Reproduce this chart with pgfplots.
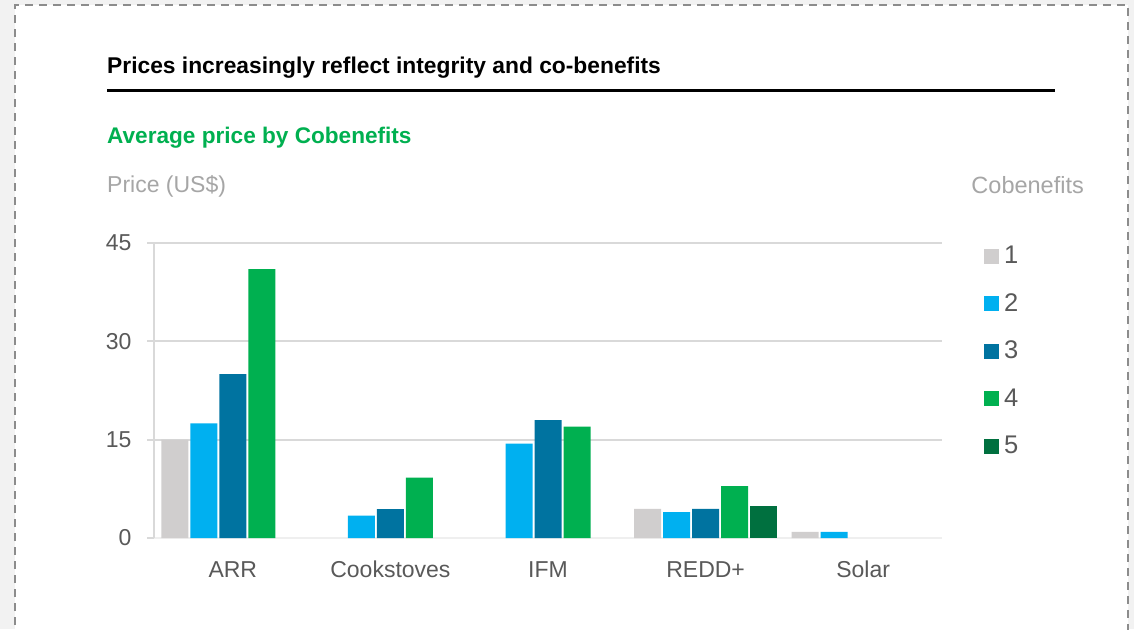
\documentclass[border=0pt]{standalone}
\usepackage{pgfplots}
\pgfplotsset{compat=1.18}
\usepackage{fontspec}
\setmainfont{Liberation Sans}
\definecolor{bgc}{HTML}{F2F2F2}
\definecolor{bordc}{HTML}{8C8C8C}
\definecolor{cA}{HTML}{D0CECE}
\definecolor{cB}{HTML}{00B0F0}
\definecolor{cC}{HTML}{0073A0}
\definecolor{cD}{HTML}{00B050}
\definecolor{cE}{HTML}{00703F}
\definecolor{gridc}{HTML}{D9D9D9}
\definecolor{txtc}{HTML}{595959}
\definecolor{lightt}{HTML}{A6A6A6}
\definecolor{titlegreen}{HTML}{00B050}
\begin{document}
\begin{tikzpicture}[x=1pt,y=1pt]
\path[use as bounding box] (0,0) rectangle (1134,629);
\fill[bgc] (0,0) rectangle (1134,629);
\fill[white] (14.5,-10) rectangle (1128.3,623.5);
\draw[bordc, line width=2pt, dash pattern=on 8pt off 6pt] (14.5,-10) -- (14.5,623.5) -- (1128.3,623.5) -- (1128.3,-10);
% titles
\node[anchor=base west, inner sep=0pt, font=\fontsize{22.8}{26}\selectfont\bfseries] at (107,629-73.5) {Prices increasingly reflect integrity and co-benefits};
\draw[black, line width=3pt] (107,629-91) -- (1055,629-91);
\node[anchor=base west, inner sep=0pt, text=titlegreen, font=\fontsize{22.6}{26}\selectfont\bfseries] at (107,629-143.5) {Average price by Cobenefits};
\node[anchor=base west, inner sep=0pt, text=lightt, font=\fontsize{23}{24}\selectfont] at (107,629-192.5) {Price (US\$)};
\node[anchor=base east, inner sep=0pt, text=lightt, font=\fontsize{23.5}{24}\selectfont] at (1084,629-193.5) {Cobenefits};
\begin{axis}[
  at={(154pt,91pt)}, anchor=south west,
  scale only axis, width=788pt, height=295pt,
  xmin=-0.5, xmax=4.5, ymin=0, ymax=45,
  ytick={0,15,30,45},
  xtick={0,1,2,3,4},
  xticklabels={ARR,Cookstoves,IFM,REDD+,Solar},
  axis lines=left,
  axis line style={-, gridc, line width=2pt},
  x axis line style={draw=gridc!110!black, line width=2pt},
  ymajorgrids, grid style={gridc, line width=2pt},
  y tick style={gridc, line width=2pt},
  major tick length=7pt, tick align=outside,
  xtick style={draw=none},
  ticklabel style={text=txtc, font=\fontsize{23}{24}\selectfont},
  yticklabel style={anchor=east, xshift=-12pt},
  xticklabel style={anchor=base, yshift=-32pt},
  /pgf/number format/assume math mode=true,
  ybar, bar width=27pt,
  legend style={at={(1.0533,0.9915)}, anchor=north west, draw=none, fill=none,
    inner sep=0pt, row sep=29.5pt, column sep=0pt,
    nodes={inner sep=0pt, text height=18pt, text depth=0pt, text=txtc, anchor=base west},
    font=\fontsize{25.5}{25}\selectfont},
  legend image code/.code={\fill[#1] (0pt,0pt) rectangle (15pt,15pt);},
  /tikz/every odd column/.append style={column sep=5pt},
]
\addplot[fill=cA, draw=none, bar shift=-58pt] coordinates {(0,15) (3,4.45) (4,0.92)};
\addplot[fill=cB, draw=none, bar shift=-29pt] coordinates {(0,17.5) (1,3.4) (2,14.4) (3,3.95) (4,0.92)};
\addplot[fill=cC, draw=none, bar shift=0pt] coordinates {(0,25) (1,4.4) (2,18) (3,4.45)};
\addplot[fill=cD, draw=none, bar shift=29pt] coordinates {(0,41) (1,9.2) (2,17) (3,7.9)};
\addplot[fill=cE, draw=none, bar shift=58pt] coordinates {(3,4.85)};
\legend{1,2,3,4,5}
\end{axis}
\end{tikzpicture}
\end{document}
